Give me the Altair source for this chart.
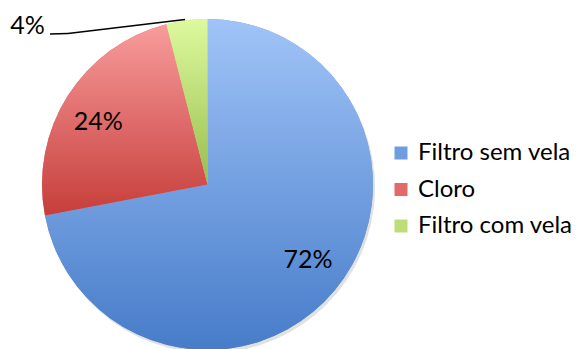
import math
import altair as alt
import pandas as pd

categories = ["Filtro sem vela", "Cloro", "Filtro com vela"]
values = [72, 24, 4]
labels = ["72%", "24%", "4%"]

top_colors = ["#A0C4F8", "#F89C9C", "#DDFA9E"]
bottom_colors = ["#477CC9", "#C63E3B", "#98BD4E"]
legend_colors = ["#6E9DE0", "#E26A68", "#BEDD78"]

df = pd.DataFrame({"category": categories, "value": values,
                   "label": labels, "order": list(range(len(categories)))})

CX, CY, R = 207.5, 184.5, 165.5
FONT = "Lato"

theta_scale = alt.Scale(domain=[0, 100], range=[0, 2 * math.pi])

base = alt.Chart(df).transform_window(
    cum="sum(value)", sort=[alt.SortField("order")]
).transform_calculate(
    start="datum.cum - datum.value",
    mid="datum.cum - datum.value / 2",
)

pos = dict(
    theta=alt.Theta("start:Q", scale=theta_scale),
    theta2=alt.Theta2("cum:Q"),
)

shadow = base.mark_arc(radius=R, color="#888888", opacity=0.25).encode(
    x=alt.value(CX + 2), y=alt.value(CY + 3), **pos
)

solid = base.mark_arc(radius=R).encode(
    x=alt.value(CX), y=alt.value(CY),
    color=alt.Color(
        "category:N",
        sort=categories,
        scale=alt.Scale(domain=categories, range=legend_colors),
        legend=alt.Legend(
            title=None, orient="none", legendX=389, legendY=141,
            symbolType="square", symbolSize=169, symbolStrokeWidth=0,
            labelFont=FONT, labelFontSize=24, labelColor="#000000",
            labelOffset=5, rowPadding=12.5,
        ),
    ),
    **pos,
)

grad_layers = []
for cat, tc, bc in zip(categories, top_colors, bottom_colors):
    g = alt.Gradient(
        gradient="linear",
        stops=[alt.GradientStop(color=tc, offset=0), alt.GradientStop(color=bc, offset=1)],
        x1=0, x2=0, y1=0, y2=1,
    )
    grad_layers.append(
        base.transform_filter(alt.datum.category == cat)
        .mark_arc(radius=R, color=g)
        .encode(x=alt.value(CX), y=alt.value(CY), **pos)
    )

text = base.transform_calculate(
    lt="datum.value < 10 ? datum.mid - 11.5 : datum.mid - 0.7",
    lr="datum.value < 10 ? 240 : 126",
).mark_text(font=FONT, fontSize=25, color="#000000").encode(
    x=alt.value(CX), y=alt.value(CY),
    theta=alt.Theta("lt:Q", scale=theta_scale),
    radius=alt.Radius("lr:Q", scale=None),
    text="label:N",
)

leader1 = base.transform_filter(alt.datum.value < 10).mark_rule(color="#000000", strokeWidth=1.5).encode(
    x=alt.value(50), y=alt.value(34), x2=alt.value(68), y2=alt.value(33.5)
)
leader2 = base.transform_filter(alt.datum.value < 10).mark_rule(color="#000000", strokeWidth=1.5).encode(
    x=alt.value(68), y=alt.value(33.5), x2=alt.value(185), y2=alt.value(19.5)
)

chart = alt.layer(shadow, solid, *grad_layers, text, leader1, leader2).properties(
    width=579, height=349, padding=0, autosize="none"
).configure_view(strokeWidth=0)

chart.save("out.html", embed_options={"renderer": "svg", "actions": False})
